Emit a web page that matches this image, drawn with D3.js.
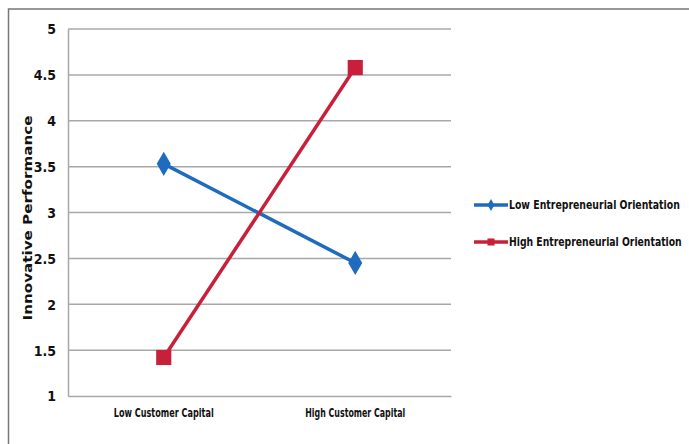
<!DOCTYPE html>
<html>
<head>
<meta charset="utf-8">
<script src="https://cdn.jsdelivr.net/npm/d3@7"></script>
<style>
  body { margin: 0; background: #fff; }
  text { font-family: "DejaVu Sans Condensed", "Liberation Sans Narrow", Arial, sans-serif; font-weight: bold; fill: #111; }
</style>
</head>
<body>
<div id="chart"></div>
<script>
var categories = ["Low Customer Capital", "High Customer Capital"];
var seriesNames = ["Low Entrepreneurial Orientation", "High Entrepreneurial Orientation"];
var lowEO = [3.53, 2.45];
var highEO = [1.42, 4.58];
var yTicks = [1, 1.5, 2, 2.5, 3, 3.5, 4, 4.5, 5];
var yTickLabels = ["1", "1.5", "2", "2.5", "3", "3.5", "4", "4.5", "5"];

var width = 689, height = 444;
var plot = {left: 68, right: 451, top: 29, bottom: 396};
var colors = ["#1f6bbd", "#c8203a"];

var svg = d3.select("#chart").append("svg")
    .attr("width", width)
    .attr("height", height);

// squeeze a text horizontally to a given width (narrow font look)
var squeeze = function(sel, w, anchorX) {
    sel.each(function() {
        var t = d3.select(this);
        var natural = this.getComputedTextLength();
        var sx = w / natural;
        t.attr("transform", (t.attr("transform") || "") +
            " translate(" + anchorX + ",0) scale(" + sx + ",1) translate(" + (-anchorX) + ",0)");
    });
};

// outer frame
svg.append("rect")
    .attr("x", 8.5).attr("y", 9)
    .attr("width", width + 20).attr("height", height + 20)
    .attr("fill", "none")
    .attr("stroke", "#777")
    .attr("stroke-width", 1.5);

var x = d3.scaleBand().domain(categories).range([plot.left, plot.right]);
var y = d3.scaleLinear().domain([1, 5]).range([plot.bottom, plot.top]);

// gridlines
svg.append("g")
    .selectAll("line")
    .data(yTicks.slice(1))
    .enter().append("line")
    .attr("x1", plot.left).attr("x2", plot.right)
    .attr("y1", function(d) { return y(d); })
    .attr("y2", function(d) { return y(d); })
    .attr("stroke", "#a8a8a8")
    .attr("stroke-width", 1.5);

// y axis
var yAxis = svg.append("g")
    .attr("transform", "translate(" + plot.left + ",0)")
    .call(d3.axisLeft(y).tickValues(yTicks)
        .tickFormat(function(d, i) { return yTickLabels[i]; })
        .tickSize(0).tickPadding(12));
yAxis.select(".domain").attr("stroke", "#a8a8a8").attr("stroke-width", 1.5);
yAxis.selectAll("text").style("font-size", "14px").attr("dy", "0.35em");

// x axis
var xAxis = svg.append("g")
    .attr("transform", "translate(0," + plot.bottom + ")")
    .call(d3.axisBottom(x).tickSize(0).tickPadding(12));
xAxis.select(".domain").attr("stroke", "#a8a8a8").attr("stroke-width", 1.5);
xAxis.selectAll("text").style("font-size", "12px");
squeeze(xAxis.selectAll("text"), 100, 0);

// y title
var yTitle = svg.append("text")
    .attr("transform", "translate(32," + 218 + ") rotate(-90)")
    .attr("text-anchor", "middle")
    .style("font-size", "13px")
    .text("Innovative Performance");
squeeze(yTitle, 205, 0);

var series = [lowEO, highEO];
var line = d3.line()
    .x(function(d, i) { return x(categories[i]) + x.bandwidth() / 2; })
    .y(function(d) { return y(d); });

series.forEach(function(s, k) {
    svg.append("path")
        .datum(s)
        .attr("d", line)
        .attr("fill", "none")
        .attr("stroke", colors[k])
        .attr("stroke-width", 3.5);

    var sym = k === 0 ? d3.symbolDiamond : d3.symbolSquare;
    var size = k === 0 ? 170 : 230;
    svg.append("g").selectAll("path")
        .data(s)
        .enter().append("path")
        .attr("transform", function(d, i) {
            return "translate(" + (x(categories[i]) + x.bandwidth() / 2) + "," + y(d) + ")";
        })
        .attr("d", d3.symbol().type(sym).size(size))
        .attr("fill", colors[k]);
});

// legend
var legend = svg.append("g");
seriesNames.forEach(function(name, k) {
    var ly = 205 + k * 37;
    legend.append("line")
        .attr("x1", 474).attr("x2", 508)
        .attr("y1", ly).attr("y2", ly)
        .attr("stroke", colors[k])
        .attr("stroke-width", 3.5);
    legend.append("path")
        .attr("transform", "translate(491," + ly + ")")
        .attr("d", d3.symbol().type(k === 0 ? d3.symbolDiamond : d3.symbolSquare).size(k === 0 ? 40 : 50))
        .attr("fill", colors[k]);
    var t = legend.append("text")
        .attr("x", 509).attr("y", ly)
        .attr("dy", "0.35em")
        .style("font-size", "12px")
        .text(name);
    squeeze(t, k === 0 ? 171 : 173, 509);
});
</script>
</body>
</html>
